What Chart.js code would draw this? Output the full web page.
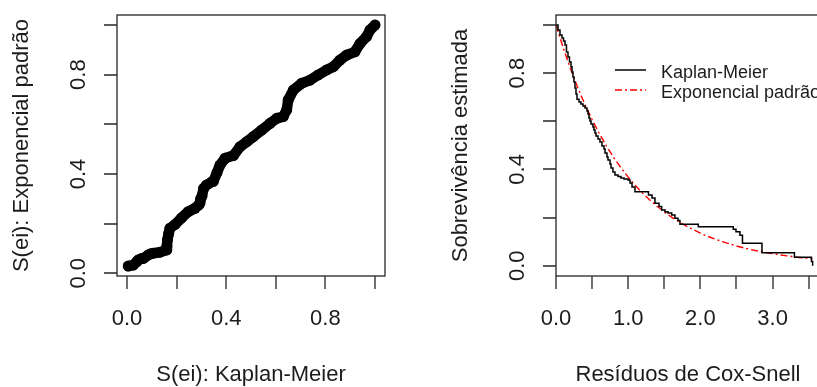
<!DOCTYPE html>
<html>
<head>
<meta charset="utf-8">
<script src="https://cdn.jsdelivr.net/npm/chart.js@4.4.1/dist/chart.umd.min.js"></script>
<style>
  html, body { margin: 0; padding: 0; background: #fff; overflow: hidden; width: 817px; height: 387px; }
  canvas { position: absolute; top: 0; }
  #graficoEsq { left: 0; }
  #graficoDir { left: 410px; }
</style>
</head>
<body>
<canvas id="graficoEsq" width="410" height="387"></canvas>
<canvas id="graficoDir" width="430" height="387"></canvas>
<script>
// painel esquerdo: S(ei) KM x S(ei) exponencial
const leftKM = [0.005, 0.025, 0.040, 0.046, 0.060, 0.066, 0.086, 0.094, 0.106, 0.133, 0.160, 0.161, 0.163, 0.168, 0.173,
  0.194, 0.220, 0.247, 0.274, 0.289, 0.294, 0.297, 0.302, 0.309, 0.321, 0.343, 0.348, 0.362, 0.375, 0.395, 0.429, 0.456,
  0.483, 0.509, 0.543, 0.577, 0.604, 0.630, 0.644, 0.650, 0.671, 0.704, 0.738, 0.771, 0.805, 0.832, 0.859, 0.886, 0.919,
  0.940, 0.966, 0.980, 1.000]
const leftExp = [0.029, 0.033, 0.047, 0.054, 0.060, 0.060, 0.074, 0.078, 0.081, 0.085, 0.094, 0.110, 0.134, 0.160, 0.181,
  0.197, 0.223, 0.248, 0.262, 0.275, 0.282, 0.300, 0.310, 0.342, 0.356, 0.369, 0.370, 0.403, 0.436, 0.463, 0.474, 0.510,
  0.530, 0.550, 0.577, 0.604, 0.624, 0.631, 0.658, 0.698, 0.738, 0.765, 0.778, 0.799, 0.819, 0.832, 0.859, 0.879, 0.892,
  0.926, 0.953, 0.980, 1.000]

// painel direito: curva de Kaplan-Meier dos residuos
const kmTime = [0, 0.028, 0.055, 0.083, 0.104, 0.125, 0.145, 0.166, 0.187, 0.208, 0.222, 0.235, 0.249, 0.263, 0.277,
  0.291, 0.319, 0.346, 0.374, 0.402, 0.429, 0.443, 0.457, 0.471, 0.485, 0.512, 0.526, 0.540, 0.554, 0.582, 0.609,
  0.637, 0.665, 0.679, 0.706, 0.720, 0.748, 0.762, 0.789, 0.817, 0.859, 0.900, 0.942, 0.997, 1.025, 1.053, 1.094,
  1.281, 1.330, 1.371, 1.427, 1.464, 1.510, 1.551, 1.603, 1.648, 1.690, 1.717, 1.971, 2.456, 2.493, 2.548, 2.583,
  2.853, 3.303, 3.539, 3.555]
const kmSurv = [1.000, 0.979, 0.958, 0.946, 0.933, 0.917, 0.888, 0.867, 0.846, 0.826, 0.805, 0.784, 0.763, 0.738, 0.713,
  0.692, 0.680, 0.672, 0.663, 0.655, 0.643, 0.630, 0.614, 0.601, 0.589, 0.576, 0.564, 0.551, 0.539, 0.526, 0.514,
  0.497, 0.485, 0.468, 0.452, 0.439, 0.422, 0.406, 0.389, 0.377, 0.371, 0.364, 0.360, 0.356, 0.344, 0.327, 0.307,
  0.294, 0.281, 0.259, 0.246, 0.231, 0.224, 0.219, 0.211, 0.197, 0.188, 0.172, 0.162, 0.151, 0.141, 0.127, 0.093,
  0.054, 0.035, 0.017, 0.000]

// exponencial padrao (tracejado vermelho)
const expTime = [0, 0.1, 0.2, 0.3, 0.4, 0.5, 0.6, 0.7, 0.8, 0.9, 1.0, 1.1, 1.2, 1.3, 1.4, 1.5, 1.6, 1.7, 1.8, 1.9,
  2.0, 2.1, 2.2, 2.3, 2.4, 2.5, 2.6, 2.7, 2.8, 2.9, 3.0, 3.1, 3.2, 3.3, 3.4, 3.5, 3.55]
const expSurv = [1.000, 0.905, 0.819, 0.741, 0.670, 0.607, 0.549, 0.497, 0.449, 0.407, 0.368, 0.333, 0.301, 0.273,
  0.247, 0.223, 0.202, 0.183, 0.165, 0.150, 0.135, 0.122, 0.111, 0.100, 0.091, 0.082, 0.074, 0.067, 0.061, 0.055,
  0.050, 0.045, 0.041, 0.037, 0.033, 0.030, 0.029]

// ticks
const ticks01 = [0, 0.2, 0.4, 0.6, 0.8, 1.0]
const labels01 = ['0.0', '', '0.4', '', '0.8', '']
const ticksRes = [0, 0.5, 1.0, 1.5, 2.0, 2.5, 3.0, 3.5]
const labelsRes = ['0.0', '', '1.0', '', '2.0', '', '3.0', '']

const FONTE = '"Liberation Sans", Arial, sans-serif'
const COR_TEXTO = '#1c1c1c'

// eixos no estilo do R (ticks para fora, rotulos do y girados)
const eixosR = {
    id : 'eixosR',
    afterDraw(chart, args, o) {
        const { ctx, chartArea : a, scales : { x, y } } = chart
        ctx.save()
        ctx.strokeStyle = '#262626'
        ctx.lineWidth = 1.3
        ctx.strokeRect(a.left, a.top, a.right - a.left, a.bottom - a.top)

        ctx.beginPath()
        o.xTicks.forEach(v => {
            const px = Math.round(x.getPixelForValue(v))
            ctx.moveTo(px, a.bottom)
            ctx.lineTo(px, a.bottom + 13)
        })
        o.yTicks.forEach(v => {
            const py = Math.round(y.getPixelForValue(v))
            ctx.moveTo(a.left, py)
            ctx.lineTo(a.left - 13, py)
        })
        ctx.stroke()

        ctx.fillStyle = COR_TEXTO
        ctx.font = `22px ${FONTE}`
        ctx.textAlign = 'center'
        ctx.textBaseline = 'alphabetic'
        o.xTicks.forEach((v, i) => {
            if (o.xLabels[i]) ctx.fillText(o.xLabels[i], x.getPixelForValue(v), a.bottom + 49)
        })
        ctx.fillText(o.xTitle, (a.left + a.right) / 2, 381)

        o.yTicks.forEach((v, i) => {
            if (!o.yLabels[i]) return
            ctx.save()
            ctx.translate(a.left - 32, y.getPixelForValue(v))
            ctx.rotate(-Math.PI / 2)
            ctx.fillText(o.yLabels[i], 0, 0)
            ctx.restore()
        })
        ctx.save()
        ctx.translate(a.left - 89, (a.top + a.bottom) / 2)
        ctx.rotate(-Math.PI / 2)
        ctx.fillText(o.yTitle, 0, 0)
        ctx.restore()

        if (o.legenda) {
            ctx.font = `18px ${FONTE}`
            ctx.textAlign = 'left'
            o.legenda.forEach((item, i) => {
                const ds = chart.data.datasets[item.ds]
                const ly = 70 + i * 20
                ctx.beginPath()
                ctx.strokeStyle = ds.borderColor
                ctx.lineWidth = ds.borderWidth
                ctx.setLineDash(ds.borderDash || [])
                ctx.moveTo(205, ly)
                ctx.lineTo(236, ly)
                ctx.stroke()
                ctx.setLineDash([])
                ctx.fillText(item.texto, 251, ly + 7.5)
            })
        }
        ctx.restore()
    }
}

const escalasOcultas = (xmin, xmax, ymin, ymax) => ({
    x : { type : 'linear', display : false, min : xmin, max : xmax },
    y : { type : 'linear', display : false, min : ymin, max : ymax }
})

const chartEsq = new Chart(document.getElementById('graficoEsq').getContext('2d'), {
    type : 'scatter',
    data : {
        datasets : [
            {
                label : 'S(ei)',
                data : leftKM.map((v, i) => ({ x : v, y : leftExp[i] })),
                showLine : true,
                borderColor : '#000',
                borderWidth : 10.5,
                borderCapStyle : 'round',
                borderJoinStyle : 'round',
                backgroundColor : '#000',
                pointRadius : 5.5,
                pointBorderWidth : 0
            }
        ]
    },
    plugins : [eixosR],
    options : {
        responsive : false,
        animation : false,
        devicePixelRatio : 1,
        layout : { padding : { left : 117, right : 25, top : 15, bottom : 111 } },
        scales : escalasOcultas(-0.0403, 1.0403, -0.0109, 1.0403),
        plugins : {
            legend : { display : false },
            tooltip : { enabled : false },
            eixosR : {
                xTicks : ticks01, xLabels : labels01,
                yTicks : ticks01, yLabels : labels01,
                xTitle : 'S(ei): Kaplan-Meier',
                yTitle : 'S(ei): Exponencial padrão'
            }
        }
    }
})

const chartDir = new Chart(document.getElementById('graficoDir').getContext('2d'), {
    type : 'scatter',
    data : {
        datasets : [
            {
                label : 'Kaplan-Meier',
                data : kmTime.map((t, i) => ({ x : t, y : kmSurv[i] })),
                showLine : true,
                stepped : 'before',
                borderColor : '#000',
                borderWidth : 1.5,
                pointRadius : 0
            },
            {
                label : 'Exponencial padrão',
                data : expTime.map((t, i) => ({ x : t, y : expSurv[i] })),
                showLine : true,
                borderColor : '#ff0000',
                borderWidth : 1.4,
                borderDash : [7, 3, 2, 3],
                pointRadius : 0
            }
        ]
    },
    plugins : [eixosR],
    options : {
        responsive : false,
        animation : false,
        devicePixelRatio : 1,
        layout : { padding : { left : 146, right : 20, top : 15, bottom : 111 } },
        scales : escalasOcultas(0, 3.657, -0.0428, 1.0415),
        plugins : {
            legend : { display : false },
            tooltip : { enabled : false },
            eixosR : {
                xTicks : ticksRes, xLabels : labelsRes,
                yTicks : ticks01, yLabels : labels01,
                xTitle : 'Resíduos de Cox-Snell',
                yTitle : 'Sobrevivência estimada',
                legenda : [
                    { ds : 0, texto : 'Kaplan-Meier' },
                    { ds : 1, texto : 'Exponencial padrão' }
                ]
            }
        }
    }
})
</script>
</body>
</html>
